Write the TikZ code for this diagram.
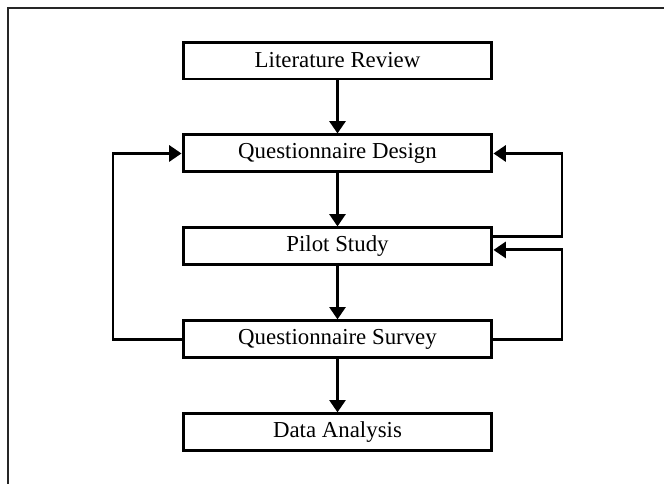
\documentclass[tikz,border=0pt]{standalone}
\usepackage{fontspec}
\setmainfont{Liberation Serif}
\usepackage{tikz}
\usetikzlibrary{arrows.meta, positioning}

\tikzset{
    stage/.style={draw, line width=1.7pt, minimum width=6.18cm, minimum height=0.74cm,
        inner sep=0pt, font=\fontsize{13}{15}\selectfont},
    flow/.style={line width=1.7pt, -{Triangle[length=7pt,width=9pt]}}
}

\begin{document}
\begin{tikzpicture}[x=0.02cm, y=-0.02cm, node distance=1.06cm]
    \useasboundingbox (0,0) rectangle (664,484);
    % Frame
    \draw[line width=1.2pt, black!85] (8,484) -- (8,8) -- (664,8);

    % Stages
    \node[stage] (review) at (337.5,60.5) {Literature Review};
    \node[stage, below=of review] (design) {Questionnaire Design};
    \node[stage, below=of design] (pilot) {Pilot Study};
    \node[stage, below=of pilot] (survey) {Questionnaire Survey};
    \node[stage, below=of survey] (analysis) {Data Analysis};

    % Rails for the loops
    \coordinate (leftx) at (113,0);
    \coordinate (rightx) at (562,0);
    \coordinate (pilotout) at ([yshift=0.19cm]pilot.east);
    \coordinate (pilotin) at ([yshift=-0.07cm]pilot.east);

    % Main flow
    \draw[flow] (review) -- (design);
    \draw[flow] (design) -- (pilot);
    \draw[flow] (pilot) -- (survey);
    \draw[flow] (survey) -- (analysis);

    % Feedback loops
    \draw[flow] (survey.west) -- (survey.west -| leftx) |- (design.west);
    \draw[flow] (pilotout) -- (pilotout -| rightx) |- (design.east);
    \draw[flow] (survey.east) -- (survey.east -| rightx) |- (pilotin);
\end{tikzpicture}
\end{document}
